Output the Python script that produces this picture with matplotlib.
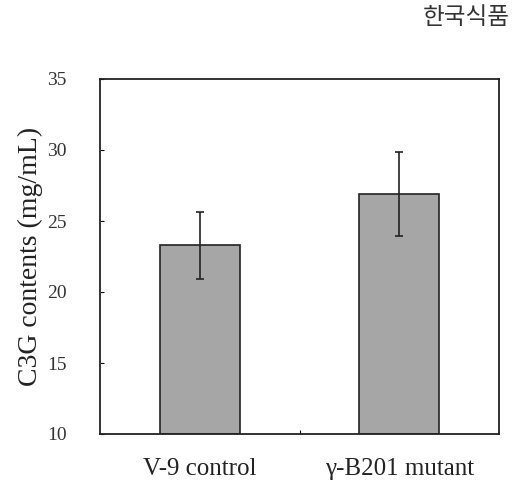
import matplotlib
matplotlib.use('Agg')
from matplotlib import pyplot as plt

categories = ['V-9 control', 'γ-B201 mutant']
values = [23.3, 26.9]
errors = [2.35, 2.95]
y_ticks = [10, 15, 20, 25, 30, 35]

plt.rcParams['font.family'] = ['Liberation Serif', 'DejaVu Serif']

fig = plt.figure(figsize=(5.12, 4.87), dpi=100)
ax = fig.add_axes([100 / 512, 1 - 434 / 487, 399 / 512, 355 / 487])

positions = [0.5 + i for i in range(len(categories))]
ax.bar(positions, [v - 10 for v in values], bottom=10, width=0.4,
       color='#a6a6a6', edgecolor='#222222', linewidth=1.2)
ax.errorbar(positions, values, yerr=errors, fmt='none', ecolor='#222222',
            elinewidth=1.2, capsize=3, capthick=1.2)

ax.set_xlim(0, 2)
ax.set_ylim(10, 35)
ax.set_yticks(y_ticks)
ax.set_yticklabels([str(t) for t in y_ticks], fontsize=14, color='#333333')
ax.set_xticks([1])
ax.set_xticklabels([''])
ax.tick_params(axis='y', direction='in', length=3, pad=24)
ax.tick_params(axis='x', direction='in', length=3)
for i, c in enumerate(categories):
    ax.text(positions[i], 8.3, c, ha='center', va='top', fontsize=18, color='#222222')
ax.set_ylabel('C3G contents (mg/mL)', fontsize=20, color='#222222', labelpad=3)
for s in ax.spines.values():
    s.set_linewidth(1.3)
    s.set_color('#222222')

fig.text(510 / 512, 1 - 17 / 487, '한국식품', ha='right', va='center', fontsize=17,
         family=['Noto Sans CJK KR', 'DejaVu Sans'], color='#333333')

fig.savefig('out.png', dpi=100)
